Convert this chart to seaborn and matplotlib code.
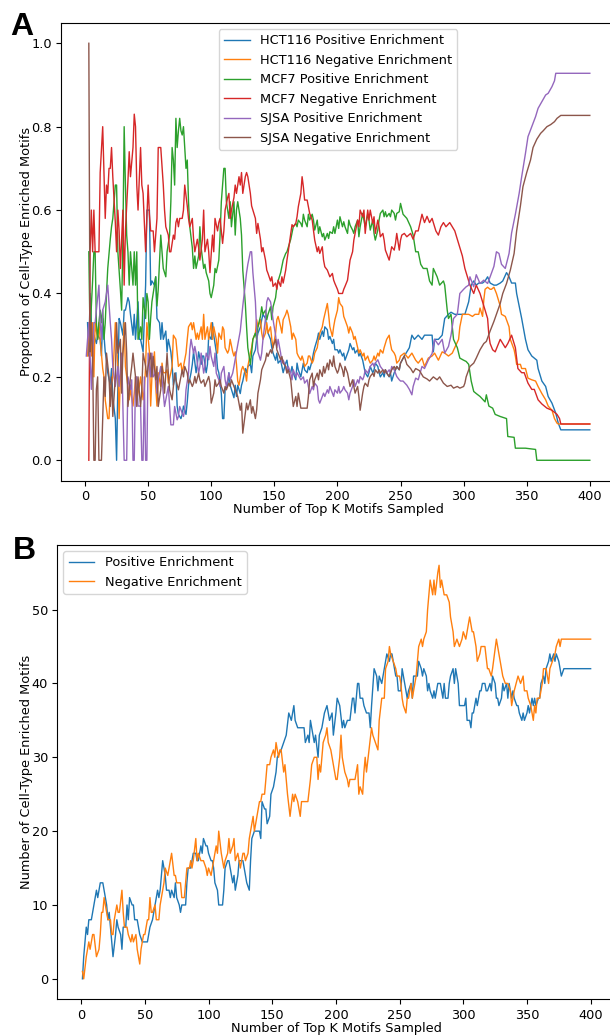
import numpy as np
import pandas as pd
import matplotlib
matplotlib.use("Agg")
import matplotlib.pyplot as plt
import seaborn as sns

# ---------------- Panel A data: (K, proportion) ----------------
hct116_pos = [(2,0.33),(3,0.25),(4,0.40),(5,0.33),(6,0.25),(7,0.30),(9,0.28),(10,0.30),(12,0.29),(13,0.25),(14,0.34),(16,0.26),(17,0.24),(18,0.21),(20,0.18),(21,0.22),(22,0.15),(24,0.10),(25,0.0),(26,0.18),(27,0.34),(28,0.33),(30,0.30),(31,0.36),(32,0.36),(34,0.39),(35,0.38),(36,0.35),(38,0.30),(39,0.35),(40,0.29),(42,0.38),(43,0.29),(44,0.29),(46,0.26),(47,0.34),(48,0.42),(49,0.60),(51,0.60),(52,0.42),(53,0.43),(55,0.42),(56,0.44),(57,0.34),(59,0.33),(60,0.29),(61,0.33),(62,0.29),(64,0.31),(65,0.26),(66,0.29),(68,0.26),(69,0.23),(70,0.18),(72,0.21),(73,0.13),(74,0.11),(76,0.10),(77,0.11),(78,0.13),(80,0.11),(81,0.14),(82,0.18),(84,0.21),(85,0.23),(86,0.26),(88,0.21),(89,0.23),(90,0.26),(92,0.23),(93,0.25),(94,0.25),(96,0.21),(97,0.23),(98,0.30),(100,0.29),(101,0.33),(102,0.30),(104,0.26),(105,0.22),(106,0.21),(108,0.16),(109,0.10),(110,0.10),(111,0.17),(113,0.18),(114,0.21),(115,0.18),(117,0.16),(118,0.15),(119,0.18),(120,0.153),(121,0.18),(123,0.16),(124,0.18),(125,0.19),(127,0.22),(128,0.21),(129,0.225),(131,0.23),(132,0.21),(133,0.25),(135,0.265),(136,0.29),(137,0.305),(139,0.32),(140,0.337),(141,0.35),(143,0.34),(144,0.32),(145,0.305),(147,0.29),(148,0.27),(149,0.257),(151,0.24),(152,0.257),(153,0.233),(155,0.24),(156,0.225),(157,0.21),(159,0.233),(160,0.24),(161,0.217),(163,0.21),(164,0.225),(165,0.21),(167,0.193),(168,0.233),(169,0.217),(171,0.2),(172,0.217),(173,0.233),(174,0.217),(176,0.21),(177,0.225),(178,0.217),(180,0.24),(181,0.257),(182,0.27),(184,0.29),(185,0.305),(186,0.29),(188,0.31),(189,0.297),(190,0.32),(192,0.313),(193,0.29),(194,0.297),(196,0.28),(197,0.29),(198,0.265),(200,0.265),(201,0.257),(202,0.265),(204,0.25),(205,0.257),(206,0.24),(208,0.257),(209,0.265),(210,0.28),(212,0.265),(213,0.27),(214,0.257),(216,0.265),(217,0.25),(218,0.257),(220,0.24),(221,0.225),(222,0.21),(224,0.2),(225,0.21),(226,0.225),(228,0.21),(229,0.217),(230,0.233),(232,0.225),(233,0.21),(234,0.2),(236,0.21),(237,0.2),(238,0.217),(239,0.21),(241,0.2),(242,0.21),(243,0.19),(245,0.21),(246,0.217),(247,0.225),(249,0.217),(250,0.233),(253,0.25),(255,0.26),(257,0.27),(259,0.30),(261,0.29),(264,0.30),(267,0.29),(269,0.30),(272,0.30),(275,0.30),(276,0.26),(277,0.29),(280,0.29),(283,0.30),(285,0.34),(288,0.35),(290,0.355),(293,0.35),(296,0.35),(299,0.35),(301,0.35),(304,0.38),(306,0.42),(308,0.43),(310,0.42),(312,0.425),(315,0.425),(317,0.43),(319,0.44),(321,0.425),(324,0.42),(326,0.42),(329,0.425),(331,0.43),(334,0.45),(336,0.44),(338,0.425),(341,0.425),(342,0.40),(344,0.37),(346,0.34),(349,0.29),(351,0.265),(354,0.25),(358,0.24),(359,0.22),(362,0.19),(365,0.177),(367,0.153),(370,0.137),(373,0.113),(375,0.089),(377,0.073),(400,0.073)]

hct116_neg = [(2,0.25),(3,0.33),(5,0.25),(6,0.33),(7,0.20),(8,0.33),(10,0.29),(11,0.33),(12,0.29),(14,0.22),(15,0.20),(16,0.145),(18,0.10),(19,0.10),(20,0.17),(22,0.20),(23,0.26),(24,0.33),(26,0.225),(27,0.10),(28,0.20),(30,0.26),(31,0.33),(32,0.225),(34,0.177),(35,0.145),(36,0.17),(38,0.13),(39,0.16),(40,0.20),(41,0.145),(43,0.177),(44,0.20),(46,0.145),(47,0.17),(48,0.225),(49,0.33),(51,0.26),(52,0.13),(53,0.20),(55,0.26),(56,0.177),(57,0.13),(58,0.21),(60,0.177),(61,0.233),(62,0.21),(64,0.21),(65,0.217),(66,0.185),(68,0.21),(69,0.225),(70,0.30),(72,0.29),(73,0.257),(74,0.225),(76,0.233),(77,0.21),(78,0.225),(80,0.257),(81,0.29),(82,0.32),(84,0.33),(85,0.313),(86,0.33),(88,0.29),(89,0.305),(90,0.29),(92,0.32),(93,0.29),(94,0.35),(95,0.29),(97,0.32),(98,0.29),(100,0.33),(101,0.29),(102,0.32),(104,0.29),(105,0.257),(106,0.305),(108,0.29),(109,0.32),(110,0.313),(111,0.27),(113,0.257),(114,0.265),(115,0.29),(117,0.26),(118,0.25),(119,0.26),(120,0.23),(121,0.19),(122,0.18),(124,0.217),(125,0.225),(127,0.21),(128,0.19),(129,0.225),(131,0.257),(132,0.27),(133,0.29),(135,0.305),(136,0.337),(137,0.32),(139,0.337),(140,0.305),(141,0.29),(143,0.305),(144,0.33),(145,0.305),(147,0.32),(148,0.29),(149,0.27),(151,0.305),(152,0.337),(153,0.345),(155,0.32),(156,0.305),(157,0.337),(159,0.35),(160,0.36),(161,0.35),(163,0.32),(164,0.29),(165,0.305),(167,0.29),(168,0.257),(169,0.25),(171,0.24),(172,0.25),(173,0.24),(174,0.225),(176,0.233),(177,0.25),(178,0.25),(180,0.233),(181,0.24),(182,0.257),(184,0.27),(185,0.29),(186,0.305),(188,0.32),(189,0.337),(190,0.35),(192,0.376),(193,0.35),(194,0.32),(196,0.297),(197,0.32),(198,0.337),(200,0.36),(201,0.39),(202,0.376),(204,0.368),(205,0.345),(206,0.337),(208,0.32),(209,0.305),(210,0.32),(212,0.305),(213,0.29),(214,0.297),(216,0.27),(217,0.257),(218,0.265),(220,0.25),(221,0.257),(222,0.24),(224,0.25),(225,0.24),(226,0.233),(228,0.24),(229,0.25),(230,0.24),(232,0.257),(233,0.25),(234,0.265),(236,0.257),(237,0.27),(238,0.28),(239,0.29),(241,0.30),(242,0.28),(243,0.265),(245,0.257),(246,0.25),(247,0.233),(249,0.24),(250,0.25),(253,0.257),(256,0.245),(259,0.257),(262,0.24),(264,0.233),(267,0.245),(269,0.225),(272,0.245),(275,0.25),(277,0.257),(280,0.24),(283,0.26),(285,0.257),(288,0.25),(291,0.257),(293,0.27),(296,0.29),(297,0.32),(299,0.35),(301,0.35),(304,0.35),(307,0.345),(309,0.35),(312,0.35),(313,0.365),(315,0.345),(316,0.385),(317,0.41),(319,0.415),(321,0.41),(322,0.41),(324,0.415),(326,0.40),(329,0.37),(330,0.35),(333,0.345),(336,0.32),(337,0.29),(340,0.265),(341,0.25),(342,0.23),(345,0.23),(346,0.22),(349,0.22),(351,0.197),(354,0.193),(357,0.19),(359,0.177),(362,0.16),(365,0.145),(367,0.13),(370,0.12),(372,0.10),(374,0.089),(375,0.087),(400,0.087)]

mcf7_pos = [(3,0.5),(4,0.29),(5,0.37),(6,0.43),(7,0.5),(8,0.5),(9,0.33),(10,0.29),(11,0.33),(12,0.36),(13,0.33),(14,0.36),(15,0.29),(16,0.33),(17,0.40),(18,0.46),(20,0.53),(21,0.56),(22,0.58),(24,0.66),(25,0.66),(26,0.50),(28,0.41),(29,0.36),(30,0.53),(31,0.80),(32,0.66),(33,0.54),(34,0.50),(35,0.42),(36,0.50),(38,0.42),(39,0.50),(40,0.42),(41,0.50),(42,0.29),(44,0.32),(45,0.29),(46,0.39),(48,0.34),(49,0.40),(50,0.38),(51,0.29),(52,0.34),(53,0.38),(55,0.42),(56,0.44),(57,0.37),(58,0.41),(60,0.54),(61,0.50),(62,0.46),(64,0.44),(65,0.50),(67,0.54),(68,0.62),(69,0.75),(70,0.72),(71,0.66),(72,0.82),(73,0.75),(74,0.79),(75,0.82),(76,0.79),(77,0.78),(78,0.80),(80,0.70),(81,0.72),(82,0.62),(83,0.56),(85,0.51),(86,0.46),(87,0.49),(88,0.46),(90,0.49),(91,0.56),(92,0.51),(94,0.46),(95,0.47),(96,0.45),(98,0.43),(99,0.40),(100,0.39),(102,0.42),(103,0.46),(104,0.45),(106,0.48),(107,0.54),(108,0.62),(110,0.70),(111,0.70),(112,0.62),(114,0.58),(115,0.62),(116,0.56),(118,0.62),(119,0.54),(120,0.60),(121,0.62),(123,0.58),(124,0.54),(125,0.456),(127,0.376),(128,0.32),(129,0.27),(131,0.23),(132,0.257),(133,0.29),(135,0.305),(136,0.29),(137,0.32),(139,0.345),(140,0.368),(141,0.35),(143,0.36),(144,0.337),(145,0.35),(147,0.368),(148,0.337),(149,0.368),(151,0.39),(152,0.416),(153,0.43),(155,0.45),(156,0.465),(157,0.48),(159,0.496),(160,0.50),(161,0.51),(163,0.53),(164,0.545),(165,0.56),(167,0.568),(168,0.56),(169,0.576),(171,0.568),(172,0.56),(173,0.59),(174,0.576),(176,0.56),(177,0.59),(178,0.576),(180,0.59),(181,0.576),(182,0.552),(184,0.576),(185,0.544),(186,0.56),(188,0.536),(189,0.544),(190,0.528),(192,0.544),(193,0.532),(194,0.548),(196,0.544),(197,0.56),(198,0.544),(200,0.576),(201,0.556),(202,0.584),(204,0.56),(205,0.572),(206,0.56),(208,0.544),(209,0.576),(210,0.564),(212,0.552),(213,0.544),(214,0.56),(216,0.576),(217,0.536),(218,0.56),(220,0.592),(221,0.576),(222,0.56),(224,0.59),(225,0.576),(226,0.552),(228,0.576),(229,0.544),(230,0.528),(232,0.552),(233,0.576),(234,0.592),(236,0.60),(237,0.584),(238,0.596),(239,0.584),(241,0.592),(242,0.584),(243,0.60),(245,0.592),(246,0.576),(247,0.592),(249,0.596),(250,0.616),(252,0.59),(255,0.58),(258,0.56),(260,0.54),(262,0.50),(264,0.50),(266,0.47),(268,0.46),(271,0.46),(273,0.43),(275,0.42),(276,0.46),(279,0.44),(281,0.42),(284,0.43),(285,0.42),(287,0.36),(288,0.34),(290,0.35),(292,0.29),(295,0.27),(297,0.245),(300,0.24),(302,0.237),(304,0.23),(306,0.19),(308,0.165),(310,0.16),(313,0.153),(317,0.14),(318,0.157),(320,0.13),(323,0.125),(325,0.11),(329,0.105),(334,0.10),(335,0.057),(340,0.055),(341,0.029),(349,0.029),(357,0.026),(358,0.0),(400,0.0)]

mcf7_neg = [(3,0.0),(4,0.5),(5,0.6),(6,0.5),(7,0.6),(8,0.5),(11,0.5),(12,0.69),(14,0.80),(16,0.58),(17,0.66),(18,0.64),(19,0.70),(20,0.70),(21,0.75),(22,0.68),(24,0.57),(25,0.50),(26,0.60),(27,0.55),(28,0.46),(30,0.60),(31,0.42),(32,0.55),(34,0.67),(35,0.74),(36,0.68),(38,0.75),(39,0.83),(40,0.80),(41,0.66),(42,0.60),(44,0.75),(45,0.66),(46,0.64),(48,0.50),(49,0.58),(50,0.66),(51,0.59),(52,0.55),(54,0.55),(55,0.50),(57,0.58),(58,0.75),(60,0.75),(62,0.66),(63,0.60),(64,0.56),(66,0.54),(67,0.50),(68,0.50),(70,0.54),(71,0.53),(72,0.57),(73,0.58),(74,0.56),(75,0.58),(77,0.58),(78,0.60),(79,0.66),(81,0.61),(82,0.58),(83,0.56),(85,0.58),(86,0.53),(87,0.50),(89,0.53),(90,0.51),(91,0.48),(93,0.53),(94,0.60),(95,0.50),(97,0.53),(98,0.50),(99,0.45),(101,0.54),(102,0.50),(103,0.58),(105,0.55),(106,0.57),(107,0.58),(109,0.52),(110,0.55),(111,0.60),(113,0.63),(114,0.64),(115,0.58),(116,0.6),(118,0.63),(119,0.66),(120,0.64),(122,0.68),(123,0.66),(124,0.69),(125,0.64),(127,0.68),(128,0.69),(129,0.68),(131,0.64),(132,0.61),(133,0.6),(135,0.58),(136,0.544),(137,0.568),(139,0.53),(140,0.50),(141,0.51),(143,0.48),(144,0.456),(145,0.448),(147,0.43),(148,0.44),(149,0.417),(151,0.425),(152,0.41),(153,0.432),(155,0.417),(156,0.44),(157,0.425),(159,0.456),(160,0.48),(161,0.50),(163,0.544),(164,0.565),(165,0.56),(167,0.568),(168,0.584),(169,0.608),(171,0.64),(172,0.68),(173,0.656),(174,0.624),(176,0.624),(177,0.608),(178,0.592),(180,0.576),(181,0.552),(182,0.528),(184,0.50),(185,0.512),(186,0.496),(188,0.512),(189,0.48),(190,0.464),(192,0.456),(193,0.448),(194,0.44),(196,0.448),(197,0.432),(198,0.424),(200,0.41),(201,0.40),(202,0.40),(204,0.40),(205,0.41),(206,0.417),(208,0.432),(209,0.456),(210,0.48),(212,0.50),(213,0.528),(214,0.544),(216,0.576),(217,0.56),(218,0.60),(220,0.584),(221,0.60),(222,0.544),(224,0.60),(225,0.576),(226,0.60),(228,0.568),(229,0.584),(230,0.544),(232,0.576),(233,0.56),(234,0.536),(236,0.544),(237,0.528),(238,0.504),(239,0.496),(241,0.48),(242,0.496),(243,0.512),(245,0.504),(246,0.52),(247,0.544),(249,0.504),(250,0.528),(251,0.54),(253,0.544),(255,0.536),(258,0.544),(260,0.53),(262,0.55),(264,0.55),(267,0.59),(269,0.57),(271,0.585),(273,0.57),(275,0.58),(278,0.55),(280,0.54),(282,0.56),(284,0.57),(286,0.56),(289,0.57),(291,0.56),(293,0.55),(295,0.53),(297,0.51),(299,0.49),(301,0.46),(303,0.44),(304,0.43),(305,0.42),(308,0.40),(310,0.42),(313,0.40),(315,0.38),(317,0.36),(319,0.34),(320,0.30),(321,0.28),(323,0.265),(325,0.26),(327,0.275),(329,0.29),(331,0.28),(333,0.27),(335,0.28),(338,0.30),(340,0.28),(341,0.27),(343,0.22),(346,0.21),(348,0.21),(351,0.185),(354,0.17),(356,0.17),(359,0.145),(362,0.135),(366,0.125),(370,0.12),(374,0.11),(376,0.10),(377,0.087),(400,0.087)]

sjsa_pos = [(1,0.25),(3,0.33),(4,0.25),(5,0.17),(6,0.25),(7,0.33),(8,0.33),(9,0.36),(11,0.42),(12,0.33),(13,0.29),(14,0.36),(16,0.38),(17,0.40),(18,0.42),(20,0.33),(21,0.29),(22,0.225),(24,0.177),(25,0.20),(26,0.225),(27,0.177),(29,0.257),(30,0.13),(31,0.0),(33,0.0),(34,0.20),(36,0.17),(37,0.193),(38,0.0),(39,0.0),(40,0.20),(41,0.20),(42,0.13),(44,0.13),(45,0.0),(46,0.0),(47,0.20),(48,0.0),(49,0.0),(50,0.257),(52,0.20),(53,0.257),(54,0.20),(56,0.209),(57,0.161),(58,0.193),(60,0.225),(61,0.193),(62,0.161),(63,0.129),(65,0.161),(66,0.177),(67,0.129),(68,0.085),(70,0.085),(71,0.129),(73,0.097),(74,0.105),(75,0.129),(77,0.113),(78,0.105),(79,0.121),(80,0.169),(82,0.209),(83,0.265),(84,0.29),(86,0.257),(87,0.273),(88,0.257),(90,0.209),(91,0.225),(92,0.257),(94,0.209),(95,0.225),(96,0.257),(98,0.241),(99,0.273),(100,0.249),(102,0.225),(103,0.257),(104,0.209),(106,0.193),(107,0.177),(108,0.209),(110,0.225),(111,0.193),(112,0.177),(114,0.209),(115,0.193),(117,0.209),(118,0.225),(120,0.26),(123,0.31),(125,0.37),(128,0.45),(129,0.47),(131,0.50),(132,0.50),(133,0.45),(135,0.38),(136,0.31),(137,0.26),(139,0.24),(140,0.257),(141,0.29),(143,0.34),(144,0.38),(145,0.39),(147,0.38),(148,0.36),(149,0.337),(151,0.30),(152,0.27),(153,0.29),(155,0.257),(156,0.233),(157,0.24),(159,0.225),(160,0.21),(161,0.225),(163,0.21),(164,0.193),(165,0.217),(167,0.20),(168,0.21),(171,0.193),(173,0.20),(174,0.185),(176,0.193),(177,0.177),(178,0.16),(180,0.177),(181,0.169),(182,0.185),(184,0.177),(185,0.145),(186,0.137),(188,0.153),(189,0.161),(190,0.153),(192,0.169),(193,0.161),(194,0.177),(196,0.161),(197,0.153),(198,0.169),(200,0.161),(201,0.177),(202,0.161),(204,0.169),(205,0.177),(206,0.169),(208,0.161),(209,0.145),(210,0.161),(212,0.177),(213,0.193),(214,0.177),(216,0.193),(217,0.185),(218,0.201),(220,0.193),(221,0.201),(222,0.217),(224,0.209),(225,0.217),(226,0.225),(228,0.233),(229,0.225),(230,0.233),(232,0.241),(233,0.233),(234,0.225),(236,0.217),(237,0.209),(238,0.217),(239,0.209),(241,0.217),(242,0.209),(243,0.225),(245,0.217),(246,0.209),(247,0.201),(249,0.193),(250,0.19),(252,0.19),(255,0.18),(257,0.17),(259,0.157),(260,0.177),(262,0.197),(264,0.193),(267,0.225),(269,0.22),(272,0.24),(275,0.256),(277,0.29),(280,0.277),(283,0.29),(285,0.257),(288,0.273),(290,0.30),(292,0.34),(295,0.35),(297,0.40),(300,0.41),(302,0.416),(304,0.42),(305,0.44),(308,0.416),(310,0.445),(313,0.424),(316,0.432),(319,0.424),(321,0.44),(324,0.465),(326,0.50),(328,0.496),(330,0.47),(333,0.46),(336,0.496),(338,0.545),(341,0.59),(344,0.64),(346,0.68),(349,0.736),(351,0.776),(354,0.80),(357,0.824),(359,0.844),(362,0.86),(365,0.876),(367,0.88),(370,0.896),(372,0.91),(373,0.928),(400,0.928)]

sjsa_neg = [(3,1.0),(4,0.26),(5,0.33),(6,0.25),(7,0.0),(8,0.0),(9,0.17),(10,0.20),(11,0.0),(13,0.0),(15,0.20),(16,0.153),(17,0.257),(19,0.20),(20,0.129),(21,0.20),(22,0.105),(24,0.20),(25,0.33),(26,0.257),(28,0.29),(29,0.161),(30,0.257),(32,0.33),(33,0.257),(34,0.129),(36,0.20),(37,0.225),(38,0.257),(40,0.20),(41,0.129),(42,0.20),(44,0.129),(45,0.169),(46,0.257),(48,0.225),(49,0.20),(50,0.225),(52,0.257),(53,0.20),(54,0.249),(56,0.193),(57,0.225),(58,0.129),(60,0.169),(61,0.225),(62,0.20),(63,0.161),(65,0.257),(66,0.209),(67,0.169),(69,0.145),(70,0.177),(71,0.209),(72,0.193),(74,0.169),(75,0.185),(77,0.217),(78,0.20),(79,0.225),(81,0.209),(82,0.185),(83,0.193),(85,0.177),(86,0.185),(87,0.201),(88,0.185),(90,0.209),(91,0.193),(92,0.185),(94,0.193),(95,0.177),(96,0.185),(98,0.201),(99,0.185),(100,0.137),(102,0.161),(103,0.193),(104,0.177),(106,0.185),(107,0.193),(108,0.177),(110,0.161),(111,0.177),(112,0.169),(114,0.185),(115,0.177),(116,0.193),(118,0.177),(119,0.169),(120,0.161),(121,0.153),(123,0.12),(124,0.137),(125,0.065),(127,0.113),(128,0.137),(129,0.121),(131,0.145),(132,0.113),(133,0.129),(135,0.10),(136,0.121),(137,0.161),(139,0.193),(140,0.217),(141,0.225),(143,0.24),(144,0.257),(145,0.249),(147,0.265),(148,0.257),(149,0.273),(151,0.29),(152,0.265),(153,0.257),(155,0.241),(156,0.249),(157,0.233),(159,0.225),(160,0.209),(161,0.217),(163,0.193),(164,0.161),(165,0.129),(167,0.153),(168,0.129),(169,0.161),(171,0.125),(173,0.125),(176,0.125),(177,0.153),(178,0.193),(180,0.209),(181,0.177),(182,0.193),(184,0.209),(185,0.193),(186,0.217),(188,0.201),(189,0.225),(190,0.209),(192,0.233),(193,0.217),(194,0.241),(196,0.225),(197,0.25),(198,0.225),(200,0.209),(201,0.217),(202,0.233),(204,0.217),(205,0.201),(206,0.225),(208,0.209),(209,0.193),(210,0.177),(212,0.193),(213,0.177),(214,0.161),(216,0.177),(217,0.153),(218,0.12),(220,0.161),(221,0.177),(222,0.185),(224,0.177),(225,0.193),(226,0.201),(228,0.209),(229,0.201),(230,0.217),(232,0.209),(233,0.217),(234,0.209),(236,0.217),(237,0.209),(238,0.217),(239,0.209),(241,0.201),(242,0.209),(243,0.217),(245,0.225),(246,0.217),(247,0.225),(249,0.217),(250,0.233),(253,0.25),(255,0.23),(258,0.22),(260,0.21),(262,0.22),(265,0.215),(268,0.20),(271,0.195),(273,0.19),(276,0.20),(279,0.193),(281,0.20),(284,0.185),(287,0.177),(290,0.18),(292,0.173),(295,0.177),(297,0.173),(300,0.177),(301,0.185),(302,0.20),(304,0.217),(305,0.225),(308,0.233),(310,0.245),(313,0.265),(316,0.28),(318,0.285),(321,0.31),(324,0.333),(326,0.35),(329,0.376),(331,0.40),(334,0.424),(337,0.456),(340,0.496),(342,0.55),(345,0.61),(347,0.656),(350,0.69),(353,0.72),(355,0.75),(358,0.77),(361,0.784),(363,0.79),(366,0.80),(369,0.805),(372,0.812),(374,0.82),(377,0.827),(400,0.827)]

series_a_names = ["HCT116 Positive Enrichment", "HCT116 Negative Enrichment",
                  "MCF7 Positive Enrichment", "MCF7 Negative Enrichment",
                  "SJSA Positive Enrichment", "SJSA Negative Enrichment"]

# ---------------- Panel B data: (K, count) ----------------
pos_counts = [(1,0),(2,3),(4,7),(5,6),(6,8),(8,8),(10,10),(12,12),(13,11),(14,12),(15,13),(17,13),(18,12),(20,10),(21,8),(22,9),(23,7),(24,5),(25,3),(27,6),(28,8),(29,7),(31,6),(32,4),(33,7),(35,7),(36,10),(37,8),(38,11),(40,10),(41,10),(42,8),(44,8),(45,7),(46,6),(48,5),(50,5),(52,5),(54,7),(56,8),(58,10),(60,12),(61,11),(62,12),(63,14),(64,16),(66,14),(67,12),(69,12),(70,11),(71,12),(73,11),(74,13),(75,11),(77,10),(78,9),(79,10),(82,10),(83,13),(84,15),(86,15),(87,16),(88,17),(90,17),(91,16),(92,16),(94,18),(95,17),(96,19),(98,18),(99,18),(100,17),(102,16),(103,16),(104,15),(105,13),(107,12),(108,10),(111,10),(112,12),(113,15),(115,16),(116,16),(117,15),(119,13),(120,14),(121,12),(123,14),(124,16),(125,16),(127,16),(128,15),(129,14),(130,13),(132,12),(133,16),(134,19),(136,20),(138,20),(140,20),(141,19),(142,24),(144,23),(145,23),(146,21),(148,22),(149,25),(151,26),(153,28),(154,30),(157,31),(161,33),(163,36),(165,35),(167,37),(168,35),(170,34),(172,34),(175,34),(176,32),(178,33),(179,32),(180,35),(183,32),(184,33),(186,30),(187,33),(189,34),(191,36),(193,37),(195,35),(197,36),(198,33),(200,36),(201,38),(203,37),(205,34),(206,35),(207,34),(209,35),(211,35),(213,38),(214,38),(215,36),(217,40),(218,40),(219,38),(221,38),(222,37),(224,36),(226,36),(227,34),(228,37),(230,42),(232,41),(233,39),(234,41),(236,40),(238,42),(239,43),(240,44),(242,43),(243,44),(244,44),(245,43),(247,41),(248,41),(249,39),(251,39),(252,42),(253,41),(255,39),(256,38),(257,39),(259,40),(260,38),(261,41),(263,41),(264,41),(265,43),(267,42),(268,41),(269,42),(271,41),(272,39),(273,40),(274,39),(276,38),(277,39),(278,38),(280,40),(281,40),(282,40),(284,38),(285,40),(286,38),(288,38),(289,40),(290,41),(292,42),(293,40),(294,42),(296,40),(297,37),(298,37),(301,37),(302,38),(303,35),(305,35),(306,34),(307,36),(308,36),(310,38),(311,37),(313,39),(314,39),(315,40),(317,40),(318,39),(319,39),(321,40),(322,39),(323,41),(325,40),(326,38),(327,38),(328,37),(330,38),(331,40),(332,39),(334,40),(335,38),(336,40),(338,38),(339,39),(340,38),(342,37),(343,37),(344,36),(346,35),(347,36),(348,35),(350,36),(351,37),(352,36),(354,38),(355,37),(356,38),(357,37),(359,38),(360,38),(361,40),(363,41),(364,40),(365,42),(367,43),(368,44),(369,43),(371,44),(372,43),(373,44),(375,43),(376,42),(377,41),(379,42),(400,42)]

neg_counts = [(1,1),(2,0),(4,3),(6,5),(7,4),(9,6),(10,6),(12,3),(14,4),(15,6),(16,9),(17,9),(18,11),(20,9),(21,8),(23,8),(24,6),(25,6),(26,8),(28,10),(29,9),(30,9),(32,12),(33,9),(34,7),(36,7),(37,6),(39,5),(40,6),(41,5),(43,6),(44,4),(46,2),(47,4),(49,6),(50,6),(52,8),(53,8),(54,11),(55,9),(56,9),(58,10),(59,8),(61,8),(62,10),(64,12),(65,13),(66,15),(68,14),(69,15),(70,16),(71,17),(73,14),(74,14),(75,13),(77,13),(78,13),(79,11),(81,11),(82,13),(83,15),(85,15),(86,16),(87,15),(88,16),(90,19),(91,16),(92,17),(94,16),(95,16),(96,16),(98,15),(99,14),(100,15),(102,14),(103,15),(104,16),(106,18),(107,17),(108,20),(110,17),(111,16),(112,15),(113,16),(115,17),(116,19),(117,17),(119,18),(120,19),(121,16),(123,17),(124,16),(125,15),(127,17),(128,17),(129,16),(131,17),(132,19),(133,20),(135,22),(136,20),(137,21),(138,22),(140,24),(141,24),(142,25),(144,25),(145,27),(146,29),(148,29),(149,30),(151,31),(152,30),(153,32),(155,30),(156,31),(157,31),(159,28),(160,29),(162,25),(164,22),(166,25),(167,24),(168,25),(170,24),(172,22),(173,24),(178,24),(180,27),(181,29),(183,30),(185,30),(186,27),(187,29),(188,28),(190,32),(192,33),(193,34),(194,32),(196,31),(198,29),(200,27),(201,27),(203,30),(204,33),(205,30),(207,28),(209,27),(210,26),(211,27),(215,27),(217,29),(218,25),(219,26),(221,25),(222,28),(223,30),(224,28),(226,31),(228,34),(229,33),(231,32),(233,31),(234,35),(236,38),(238,38),(239,42),(241,43),(242,45),(243,44),(245,43),(247,42),(248,41),(250,41),(251,40),(252,38),(253,37),(255,36),(256,38),(257,38),(259,40),(260,38),(261,39),(263,41),(264,43),(265,45),(267,46),(268,45),(269,46),(271,47),(272,50),(273,52),(274,54),(276,52),(277,54),(278,52),(280,55),(281,56),(282,53),(283,54),(285,52),(287,52),(289,51),(290,49),(292,47),(293,45),(295,46),(297,45),(299,46),(300,47),(302,46),(303,47),(305,49),(307,47),(308,47),(310,45),(311,43),(313,44),(314,45),(317,45),(319,42),(320,42),(322,41),(323,42),(326,46),(327,45),(329,43),(331,41),(333,40),(335,40),(337,39),(338,37),(340,39),(343,41),(345,40),(347,41),(348,39),(350,39),(351,38),(353,37),(355,35),(356,37),(357,36),(358,38),(360,38),(362,40),(363,42),(365,42),(367,40),(368,42),(370,43),(372,44),(373,45),(375,46),(376,45),(377,46),(400,46)]

series_b_names = ["Positive Enrichment", "Negative Enrichment"]

x_label = "Number of Top K Motifs Sampled"
y_label_a = "Proportion of Cell-Type Enriched Motifs"
y_label_b = "Number of Cell-Type Enriched Motifs"
x_ticks = [0, 50, 100, 150, 200, 250, 300, 350, 400]


def to_long(series_list, names):
    frames = []
    for name, pts in zip(names, series_list):
        arr = np.array(pts, dtype=float)
        frames.append(pd.DataFrame({"K": arr[:, 0], "value": arr[:, 1], "series": name}))
    return pd.concat(frames, ignore_index=True)


df_a = to_long([hct116_pos, hct116_neg, mcf7_pos, mcf7_neg, sjsa_pos, sjsa_neg], series_a_names)
df_b = to_long([pos_counts, neg_counts], series_b_names)

plt.rcParams["font.family"] = ["DejaVu Sans"]
FS = 9.3
palette = sns.color_palette("tab10", 6)

fig = plt.figure(figsize=(6.10, 10.35), dpi=100)
ax_a = fig.add_axes([0.1002, 0.5353, 0.908, 0.4428])
ax_b = fig.add_axes([0.0935, 0.0343, 0.9164, 0.4395])

sns.lineplot(data=df_a, x="K", y="value", hue="series", hue_order=series_a_names,
             palette=palette, linewidth=1.0, ax=ax_a, estimator=None, sort=True)
sns.lineplot(data=df_b, x="K", y="value", hue="series", hue_order=series_b_names,
             palette=palette[:2], linewidth=1.0, ax=ax_b, estimator=None, sort=True)

for ax in (ax_a, ax_b):
    ax.set_xlim(-18.95, 419.95)
    ax.set_xticks(x_ticks)
    ax.set_xlabel(x_label, fontsize=FS, labelpad=0.0)
    ax.tick_params(labelsize=FS, length=3.5, width=0.8, pad=3.0)
    for sp in ax.spines.values():
        sp.set_linewidth(0.8)

ax_a.set_ylim(-0.0496, 1.0494)
ax_a.set_yticks([0.0, 0.2, 0.4, 0.6, 0.8, 1.0])
ax_a.set_ylabel(y_label_a, fontsize=FS, labelpad=-1)
ax_b.set_ylim(-2.8, 58.8)
ax_b.set_yticks([0, 10, 20, 30, 40, 50])
ax_b.set_ylabel(y_label_b, fontsize=FS, labelpad=-1)

h, l = ax_a.get_legend_handles_labels()
ax_a.legend(h, l, loc="upper center", bbox_to_anchor=(0.5, 1.0), fontsize=FS,
            framealpha=0.8, handlelength=2.0)
h, l = ax_b.get_legend_handles_labels()
ax_b.legend(h, l, loc="upper left", fontsize=FS, framealpha=0.8, handlelength=2.0)

fig.text(0.016, 0.988, "A", fontsize=23, fontweight="bold", family="Liberation Sans",
         va="top", ha="left")
fig.text(0.021, 0.482, "B", fontsize=23, fontweight="bold", family="Liberation Sans",
         va="top", ha="left")

fig.savefig("out.png", dpi=100)
